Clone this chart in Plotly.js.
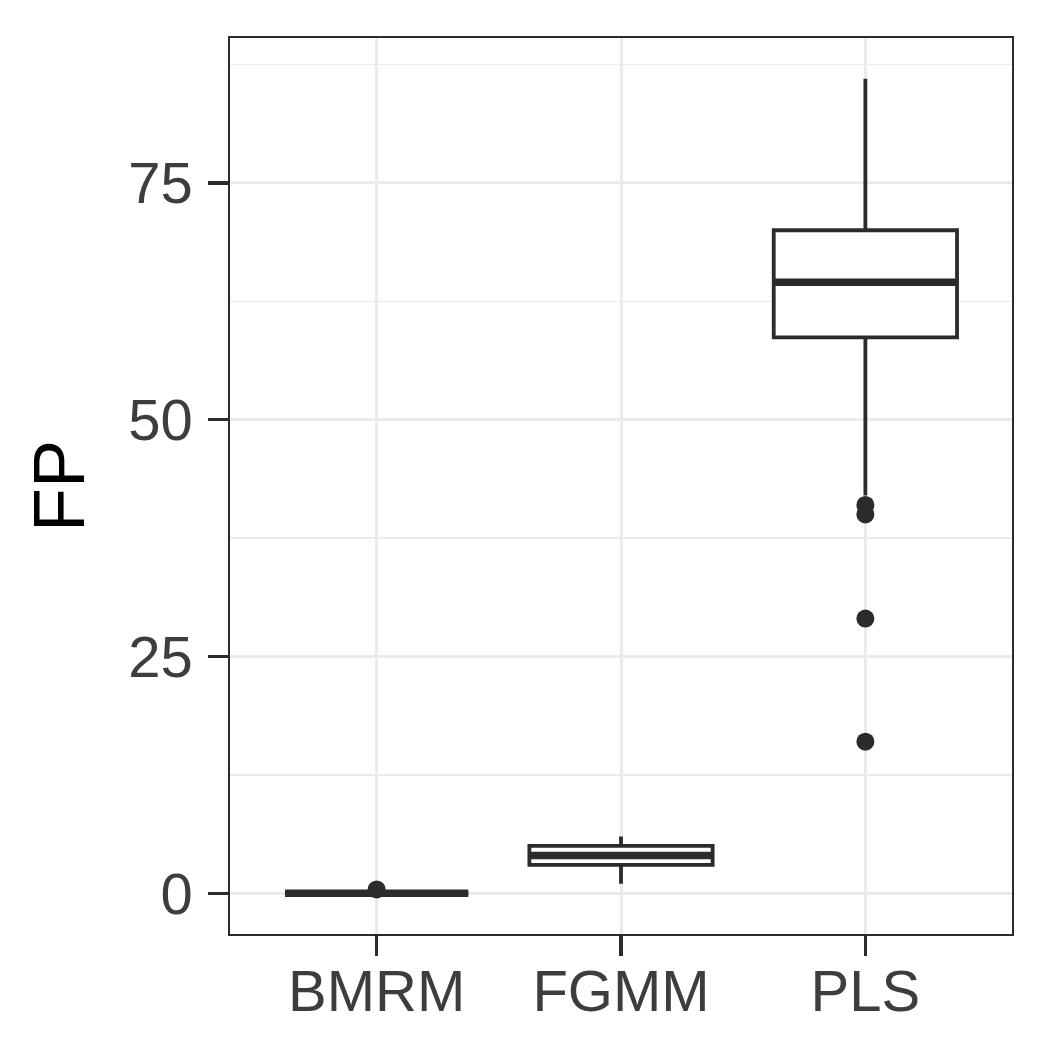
<!DOCTYPE html>
<html>
<head>
<meta charset="utf-8">
<script src="https://cdn.plot.ly/plotly-3.0.1.min.js"></script>
<style>html,body{margin:0;padding:0;background:#fff;}#chart{width:1050px;height:1050px;}</style>
</head>
<body>
<div id="chart"></div>
<script>
// Data
const categories = ["BMRM", "FGMM", "PLS"];
const q1 = [0, 3, 58.7];
const median = [0, 4, 64.5];
const q3 = [0, 5, 70];
const lowerWhisker = [0, 1, 42];
const upperWhisker = [0, 6, 86];
const outlierCategory = ["BMRM", "PLS", "PLS", "PLS", "PLS"];
const outlierValue = [0.4, 41, 40, 29, 16];
const yTicks = [0, 25, 50, 75];

const pos = categories.map((c, i) => i);
const boxHalf = 0.375;
const ink = "#2b2b2b";

const boxTrace = {
  type: "box",
  x: pos,
  q1: q1, median: median, q3: q3,
  lowerfence: lowerWhisker, upperfence: upperWhisker,
  width: boxHalf * 2,
  whiskerwidth: 0,
  fillcolor: "#ffffff",
  line: { color: ink, width: 3.8 },
  boxpoints: false,
  hoverinfo: "skip",
  showlegend: false
};

// thicker median bars (ggplot median fatten)
const medX = [], medY = [];
pos.forEach((p, i) => {
  medX.push(p - boxHalf, p + boxHalf, null);
  medY.push(median[i], median[i], null);
});
const medianTrace = {
  type: "scatter", mode: "lines",
  x: medX, y: medY,
  line: { color: ink, width: 7.5 },
  hoverinfo: "skip", showlegend: false
};

const outlierTrace = {
  type: "scatter", mode: "markers",
  x: outlierCategory.map(c => categories.indexOf(c)),
  y: outlierValue,
  marker: { color: ink, size: 18, line: { width: 0 } },
  hoverinfo: "skip", showlegend: false
};

const font = "Liberation Sans, Arial, Helvetica, sans-serif";
const tickColor = "#3d3d3d";

const layout = {
  width: 1050, height: 1050,
  paper_bgcolor: "#ffffff", plot_bgcolor: "#ffffff",
  margin: { l: 230, r: 38, t: 38, b: 116, pad: 0 },
  showlegend: false,
  xaxis: {
    range: [-0.6, 2.6],
    tickmode: "array", tickvals: pos, ticktext: categories,
    showgrid: true, gridcolor: "#EBEBEB", gridwidth: 3,
    zeroline: false,
    showline: true, mirror: true, linecolor: ink, linewidth: 1.7,
    ticks: "outside", ticklen: 20, tickwidth: 3.5, tickcolor: ink,
    tickfont: { family: font, size: 58, color: tickColor },
    ticklabelstandoff: -14
  },
  yaxis: {
    range: [-4.3, 90.3],
    tickmode: "array", tickvals: yTicks, ticktext: yTicks.map(String),
    showgrid: true, gridcolor: "#EBEBEB", gridwidth: 3,
    minor: { tickmode: "linear", tick0: 12.5, dtick: 25, showgrid: true, gridcolor: "#EBEBEB", gridwidth: 1.5, ticks: "" },
    zeroline: false,
    showline: true, mirror: true, linecolor: ink, linewidth: 1.7,
    ticks: "outside", ticklen: 20, tickwidth: 3.5, tickcolor: ink,
    tickfont: { family: font, size: 58, color: tickColor },
    ticklabelstandoff: 4,
    title: { text: "FP", font: { family: font, size: 72, color: "#000000" }, standoff: 20 }
  }
};

Plotly.newPlot("chart", [boxTrace, medianTrace, outlierTrace], layout, { displayModeBar: false, staticPlot: true });
</script>
</body>
</html>
